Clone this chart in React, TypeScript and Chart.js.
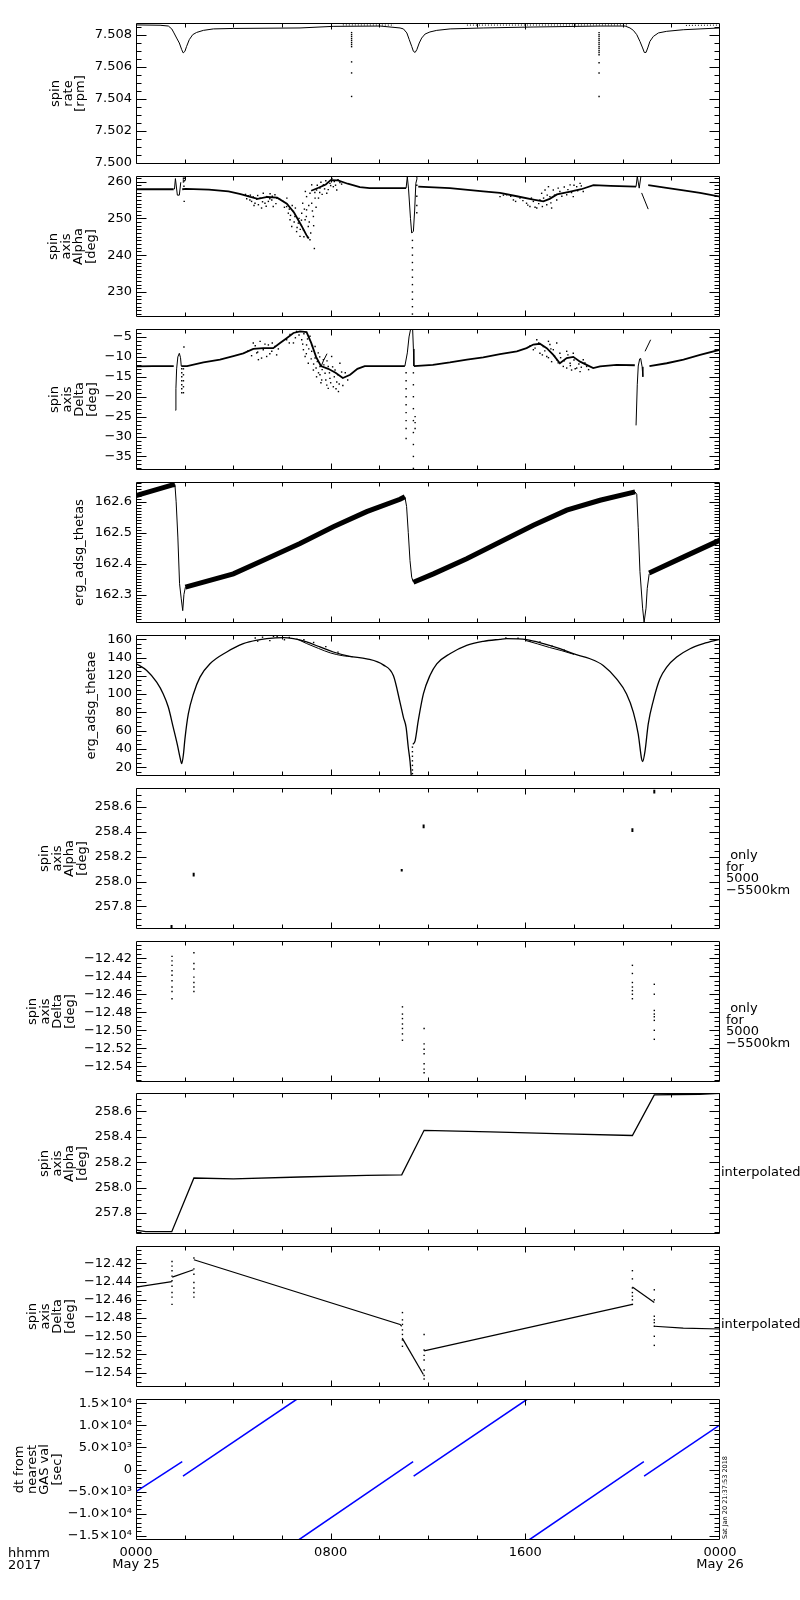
import React, { useEffect, useRef } from "react";
import { Chart, registerables } from "chart.js";
Chart.register(...registerables);

type Pt = [number, number]; // [hour of day, value]

const FONT = "'DejaVu Sans', 'Liberation Sans', sans-serif";

// ---------- x axis (hours, 2017 May 25 0000 -> May 26 0000) ----------
const xTickHours = [0, 8, 16, 24];
const xTickLabels: (string | string[])[] = [["0000", "May 25"], "0800", "1600", ["0000", "May 26"]];

// ---------- tick values & labels ----------
const spinRateTicks = [7.5, 7.502, 7.504, 7.506, 7.508];
const spinRateTickText = ["7.500", "7.502", "7.504", "7.506", "7.508"];
const alphaTicks = [230, 240, 250, 260];
const alphaTickText = ["230", "240", "250", "260"];
const deltaTicks = [-35, -30, -25, -20, -15, -10, -5];
const deltaTickText = ["−35", "−30", "−25", "−20", "−15", "−10", "−5"];
const thetasTicks = [162.3, 162.4, 162.5, 162.6];
const thetasTickText = ["162.3", "162.4", "162.5", "162.6"];
const thetaeTicks = [20, 40, 60, 80, 100, 120, 140, 160];
const thetaeTickText = ["20", "40", "60", "80", "100", "120", "140", "160"];
const alphaFineTicks = [257.8, 258.0, 258.2, 258.4, 258.6];
const alphaFineTickText = ["257.8", "258.0", "258.2", "258.4", "258.6"];
const deltaFineTicks = [-12.54, -12.52, -12.5, -12.48, -12.46, -12.44, -12.42];
const deltaFineTickText = ["−12.54", "−12.52", "−12.50", "−12.48", "−12.46", "−12.44", "−12.42"];
const dtTicks = [-15000, -10000, -5000, 0, 5000, 10000, 15000];
const dtTickText = ["−1.5×10⁴", "−1.0×10⁴", "−5.0×10³", "0", "5.0×10³", "1.0×10⁴", "1.5×10⁴"];

// ---------- Panel 1: spin rate [rpm] ----------
const spinRateMain: Pt[] = [
  [0, 7.50861], [0.99, 7.50859], [1.33, 7.50854], [1.47, 7.50836], [1.56, 7.50811], [1.67, 7.50779],
  [1.78, 7.50748], [1.88, 7.50706], [1.94, 7.50686], [2.01, 7.50696], [2.08, 7.50727], [2.19, 7.50769],
  [2.33, 7.508], [2.49, 7.50814], [2.77, 7.50827], [3.18, 7.50836], [4.0, 7.50839], [6.74, 7.50842],
  [8.1, 7.50852], [10.03, 7.50854], [10.85, 7.50842], [10.99, 7.50836], [11.13, 7.50811], [11.23, 7.50769],
  [11.33, 7.50727], [11.4, 7.50696], [11.47, 7.50689], [11.54, 7.50706], [11.64, 7.50748], [11.74, 7.50779],
  [11.88, 7.50804], [12.08, 7.50817], [12.36, 7.50827], [12.91, 7.50836], [14.27, 7.50842], [16.32, 7.50848],
  [19.07, 7.50854], [20.1, 7.50854], [20.3, 7.50842], [20.44, 7.50827], [20.58, 7.508], [20.71, 7.50758],
  [20.82, 7.50717], [20.89, 7.50689], [20.96, 7.50689], [21.03, 7.50717], [21.12, 7.50758], [21.26, 7.50789],
  [21.47, 7.50811], [21.81, 7.50821], [22.49, 7.50831], [23.18, 7.50836], [24, 7.50842],
];
const spinRateUpperA: Pt[] = [[8.5, 7.50861], [10.6, 7.5086]];
const spinRateUpperB: Pt[] = [[13.6, 7.5086], [20.2, 7.50861]];
const spinRateUpperC: Pt[] = [[22.6, 7.50858], [24, 7.5086]];
const spinRateSpikeA: Pt[] = [
  [8.86, 7.50813], [8.86, 7.508], [8.86, 7.50788], [8.86, 7.50775], [8.86, 7.50763], [8.86, 7.5075],
  [8.86, 7.50738], [8.86, 7.50725], [8.86, 7.5063], [8.86, 7.50561], [8.86, 7.50414],
];
const spinRateSpikeB: Pt[] = [
  [19.03, 7.50813], [19.03, 7.508], [19.03, 7.50788], [19.03, 7.50775], [19.03, 7.50763], [19.03, 7.5075],
  [19.03, 7.50738], [19.03, 7.50725], [19.03, 7.50713], [19.03, 7.507], [19.03, 7.50688], [19.03, 7.50675],
  [19.03, 7.50625], [19.03, 7.50561], [19.03, 7.50414],
];

// ---------- Panel 2: spin axis Alpha [deg] ----------
const alphaMain1: Pt[] = [[0, 257.9], [1.55, 257.9]];
const alphaGlitch1: Pt[] = [[1.58, 257.9], [1.62, 260.8], [1.7, 256.3], [1.78, 256.3], [1.84, 259.8]];
const alphaMain2: Pt[] = [
  [1.9, 257.9], [2.05, 258.0], [3.0, 257.8], [3.8, 257.3], [4.3, 256.6], [4.7, 255.8], [5.0, 255.3],
  [5.4, 255.8], [5.8, 255.6], [6.2, 254.0], [6.5, 251.5], [6.8, 248.0], [7.0, 245.5], [7.1, 244.5],
];
const alphaMain3: Pt[] = [
  [7.2, 257.5], [7.5, 258.3], [7.8, 259.2], [8.0, 260.4], [8.3, 260.3], [8.7, 259.4], [9.2, 258.5],
  [9.6, 258.2], [11.1, 258.2],
];
const alphaSpike2: Pt[] = [
  [11.1, 258.2], [11.15, 261.3], [11.2, 258.0], [11.28, 250.0], [11.33, 246.0], [11.4, 246.5],
  [11.45, 252], [11.5, 259.5], [11.55, 260.8],
];
const alphaMain4: Pt[] = [
  [11.6, 258.6], [12.9, 258.2], [14.27, 257.3], [14.96, 256.9], [15.65, 256.0], [16.33, 255.1],
  [16.74, 254.6], [17.0, 255.3], [17.3, 256.5], [17.8, 257.2], [18.3, 257.9], [18.8, 259.0],
  [19.5, 258.8], [20.55, 258.6],
];
const alphaGlitch3: Pt[] = [[20.55, 258.6], [20.6, 261.4], [20.68, 258.2], [20.75, 261.4]];
const alphaDiag3: Pt[] = [[20.78, 256.9], [21.05, 252.5]];
const alphaMain5: Pt[] = [[21.05, 259.0], [21.8, 258.3], [22.5, 257.6], [23.18, 256.9], [24, 255.9]];
const alphaDots: Pt[] = [
  [1.95, 260.9], [1.95, 260.4], [1.95, 259.9], [1.97, 258.7], [1.98, 254.6], [1.99, 260.9], [1.99, 260.2],
  [11.36, 244], [11.36, 242], [11.36, 240], [11.36, 238], [11.36, 236], [11.36, 234], [11.36, 232],
  [11.36, 230], [11.36, 228], [11.36, 226], [11.36, 224],
  [11.54, 261.0], [11.54, 259.0], [11.54, 256], [11.54, 253.5], [11.54, 251.5],
];
const alphaCloudLeft: Pt[] = [
  [4.62, 256.1], [4.75, 254.6], [4.89, 254.1], [5.03, 253.7], [5.1, 255.5], [5.16, 252.8], [5.23, 256.8],
  [5.3, 254.1], [5.37, 255.9], [5.44, 254.6], [5.51, 256.7], [5.58, 255.0], [5.64, 253.2], [5.71, 256.4],
  [5.78, 255.5], [4.96, 255.2], [4.82, 255.8], [4.68, 255.0], [6.05, 254.6], [6.19, 253.2], [6.26, 251.4],
  [6.33, 249.6], [6.4, 247.8], [6.47, 251.9], [6.53, 250.5], [6.6, 246.4], [6.67, 248.7], [6.74, 245.1],
  [6.81, 251.4], [6.88, 246.9], [6.95, 249.6], [7.01, 252.3], [7.08, 247.8], [7.15, 244.2], [7.22, 254.1],
  [7.29, 250.5], [7.33, 241.8], [6.85, 254.1], [7.01, 255.9], [7.15, 256.8], [6.96, 257.3], [7.42, 257.7],
  [7.56, 258.2], [7.7, 259.1], [7.84, 256.8], [7.97, 259.5], [8.11, 258.6], [8.25, 257.7], [8.38, 259.7],
  [7.22, 259.1], [7.36, 255.5],
  [6.1, 253.0], [6.2, 255.5], [6.3, 252.5], [6.35, 250.8], [6.42, 253.5], [6.5, 249.0], [6.55, 252.8],
  [6.62, 247.5], [6.7, 250.0], [6.75, 247.0], [6.8, 249.5], [6.9, 245.0], [6.92, 252.5], [7.0, 250.5],
  [7.05, 244.8], [7.1, 253.5], [7.12, 249.0], [7.18, 246.0], [7.25, 252.0], [7.3, 248.0], [7.35, 257.0],
  [7.4, 253.0], [7.45, 259.0], [7.5, 255.5], [7.55, 257.0], [7.6, 259.8], [7.65, 256.5], [7.75, 258.0],
  [7.8, 260.2], [7.9, 257.8], [8.0, 258.9], [8.05, 260.8], [8.15, 260.0], [8.2, 259.0], [8.3, 260.5],
  [8.45, 259.3], [4.5, 256.5], [4.55, 255.3], [4.7, 256.3], [4.85, 253.5], [5.0, 256.2], [5.2, 254.5],
  [5.35, 253.3], [5.5, 255.3], [5.6, 256.0], [5.75, 254.0], [5.9, 255.2],
];
const alphaCloudRight: Pt[] = [
  [14.96, 255.9], [15.23, 256.4], [15.51, 255.0], [15.78, 255.5], [16.05, 254.1], [16.19, 253.2],
  [16.33, 254.6], [16.47, 252.8], [16.6, 255.0], [16.67, 256.8], [16.88, 253.7], [17.01, 255.9],
  [17.08, 252.8], [17.15, 257.7], [17.29, 255.0], [17.42, 257.3], [17.7, 256.4], [17.84, 259.1],
  [17.97, 255.9], [18.11, 258.6], [18.25, 259.5], [18.38, 257.3], [16.81, 257.7], [16.95, 258.6],
  [15.1, 256.3], [15.4, 256.0], [15.6, 254.6], [15.9, 254.8], [16.1, 253.6], [16.25, 255.5], [16.4, 253.0],
  [16.55, 254.0], [16.7, 253.2], [16.75, 255.5], [16.9, 256.3], [17.05, 254.2], [17.2, 256.3], [17.35, 258.2],
  [17.5, 256.0], [17.6, 258.5], [17.75, 257.8], [17.9, 257.0], [18.0, 259.0], [18.15, 257.5], [18.3, 258.8],
];

// ---------- Panel 3: spin axis Delta [deg] ----------
const deltaMain1: Pt[] = [[0, -12.4], [0.7, -12.3], [1.55, -12.3]];
const deltaGlitch1: Pt[] = [[1.62, -23.4], [1.64, -18], [1.67, -13], [1.72, -10], [1.78, -9.1], [1.83, -10.2], [1.86, -12.3]];
const deltaMain2: Pt[] = [
  [1.86, -12.3], [2.1, -12.3], [2.77, -11.4], [3.45, -10.7], [4.0, -9.8], [4.41, -9.1], [4.82, -8.0],
  [5.23, -7.8], [5.64, -7.8], [5.92, -6.5], [6.19, -5.3], [6.47, -4.0], [6.74, -3.6], [7.01, -3.8],
  [7.2, -6.5], [7.4, -10], [7.6, -12.3], [7.9, -13.0], [8.2, -14.0], [8.5, -15.3], [8.8, -14.5],
  [9.1, -13.0], [9.4, -12.3], [11.05, -12.3],
];
const deltaBranch: Pt[] = [[7.6, -12.5], [7.7, -11], [7.85, -9.2]];
const deltaSpike2a: Pt[] = [[11.05, -12.3], [11.15, -9], [11.22, -5], [11.28, -3.2]];
const deltaSpike2b: Pt[] = [[11.37, -3.2], [11.4, -8], [11.42, -12.3]];
const deltaMain3: Pt[] = [
  [11.42, -12.3], [12.2, -12.0], [12.9, -11.4], [13.6, -10.7], [14.27, -10.1], [14.96, -9.3],
  [15.65, -8.6], [16.05, -7.8], [16.33, -6.9], [16.6, -6.7], [16.88, -7.8], [17.15, -9.5], [17.42, -11.6],
  [17.7, -10.3], [17.97, -10.0], [18.25, -11.2], [18.52, -12.0], [18.79, -12.8], [19.07, -12.4],
  [19.75, -12.0], [20.5, -12.1],
];
const deltaGlitch3a: Pt[] = [[20.55, -27.2], [20.6, -17], [20.64, -12.3], [20.7, -10.5], [20.74, -10.4], [20.8, -12.5], [20.83, -15]];
const deltaGlitch3b: Pt[] = [[20.92, -8.6], [21.15, -5.7]];
const deltaMain4: Pt[] = [[21.1, -12.3], [21.81, -11.6], [22.5, -10.7], [23.18, -9.5], [24, -8.2]];
const deltaDots: Pt[] = [
  [1.88, -13], [1.88, -14], [1.88, -15], [1.88, -16], [1.88, -17], [1.88, -18], [1.88, -19],
  [1.95, -13], [1.95, -14.5], [1.95, -16], [1.95, -17.5], [1.95, -19], [1.97, -7.5],
  [11.1, -14], [11.1, -16], [11.1, -18], [11.1, -20], [11.1, -22], [11.1, -24], [11.1, -26], [11.1, -28], [11.1, -30.5],
  [11.4, -14], [11.4, -17], [11.4, -20], [11.4, -23], [11.4, -26], [11.4, -29], [11.4, -32], [11.4, -35], [11.4, -38],
  [11.47, -25], [11.47, -26.5], [11.47, -28],
];
const deltaCloudLeft: Pt[] = [
  [4.82, -6.5], [4.96, -9.0], [5.03, -10.7], [5.1, -6.1], [5.23, -8.2], [5.37, -9.9], [5.44, -7.0],
  [5.58, -8.6], [5.71, -7.4], [5.78, -9.5], [5.16, -10.3], [4.75, -9.7], [6.19, -5.7], [6.33, -4.4],
  [6.47, -6.5], [6.6, -3.6], [6.81, -5.7], [6.88, -8.2], [6.95, -9.9], [7.01, -7.0], [7.08, -11.6],
  [7.15, -4.8], [7.22, -8.6], [7.29, -13.3], [7.36, -10.3], [7.42, -15.0], [7.49, -9.0], [7.56, -12.4],
  [7.63, -15.8], [7.7, -10.7], [7.77, -14.1], [7.84, -17.1], [7.9, -12.4], [7.97, -15.4], [8.04, -9.9],
  [8.11, -17.5], [8.18, -13.3], [8.25, -16.3], [8.32, -18.7], [8.38, -11.6], [7.9, -17.9], [7.56, -14.5],
  [7.36, -7.4],
  [4.6, -8.5], [4.9, -7.2], [5.0, -8.8], [5.3, -6.8], [5.5, -9.2], [5.6, -6.5], [5.85, -8.0], [6.3, -6.5],
  [6.55, -5.2], [6.7, -4.5], [6.85, -6.8], [6.9, -4.2], [7.0, -9.2], [7.05, -5.5], [7.1, -8.0], [7.2, -10.5],
  [7.25, -7.2], [7.3, -11.8], [7.4, -12.8], [7.45, -11.2], [7.5, -14.0], [7.55, -10.0], [7.6, -16.5],
  [7.65, -13.2], [7.72, -12.0], [7.8, -15.8], [7.85, -11.0], [7.95, -14.0], [8.0, -16.5], [8.08, -12.5],
  [8.15, -15.0], [8.22, -18.0], [8.3, -14.5], [8.35, -16.8], [8.45, -13.8], [8.5, -17.2], [8.6, -14.0], [8.7, -15.8],
];
const deltaCloudRight: Pt[] = [
  [16.33, -8.2], [16.47, -5.7], [16.6, -9.1], [16.74, -7.4], [16.88, -9.9], [17.01, -6.9], [17.08, -11.2],
  [17.15, -8.2], [17.29, -10.7], [17.42, -9.1], [17.56, -12.4], [17.7, -8.6], [17.84, -11.6], [17.9, -13.3],
  [17.97, -9.1], [18.11, -12.8], [18.25, -13.7], [18.38, -10.7], [18.52, -12.4], [17.29, -6.5],
  [16.95, -6.1], [17.7, -12.8],
  [16.2, -7.2], [16.4, -7.8], [16.55, -6.5], [16.7, -9.5], [16.8, -8.5], [16.95, -10.2], [17.05, -8.0],
  [17.2, -9.8], [17.35, -11.5], [17.45, -10.2], [17.6, -11.0], [17.75, -9.5], [17.85, -12.2], [18.0, -10.8],
  [18.05, -13.0], [18.2, -11.8], [18.3, -12.6], [18.45, -11.5], [18.6, -13.2],
];

// ---------- Panel 4: erg_adsg_thetas ----------
const thetasBand1: Pt[] = [[0, 162.62], [1.47, 162.654], [1.6, 162.656]];
const thetasDrop1: Pt[] = [[1.6, 162.656], [1.65, 162.6], [1.72, 162.486], [1.79, 162.335], [1.86, 162.286], [1.92, 162.248], [1.97, 162.3], [2.03, 162.324]];
const thetasBand2: Pt[] = [[2.03, 162.324], [4.0, 162.367], [5.37, 162.416], [6.74, 162.465], [8.11, 162.519], [9.48, 162.568], [10.85, 162.608], [11.05, 162.616]];
const thetasDrop2: Pt[] = [[11.05, 162.616], [11.12, 162.585], [11.19, 162.5], [11.26, 162.41], [11.33, 162.356], [11.4, 162.34]];
const thetasBand3: Pt[] = [[11.4, 162.34], [12.22, 162.367], [13.59, 162.416], [14.96, 162.47], [16.33, 162.524], [17.7, 162.573], [19.07, 162.605], [20.51, 162.632]];
const thetasDrop3: Pt[] = [[20.51, 162.632], [20.58, 162.624], [20.64, 162.516], [20.71, 162.375], [20.82, 162.256], [20.88, 162.21], [20.96, 162.256], [21.01, 162.32], [21.09, 162.367]];
const thetasBand4: Pt[] = [[21.09, 162.37], [22.49, 162.421], [24, 162.476]];

// ---------- Panel 5: erg_adsg_thetae ----------
const thetaeSeg1: Pt[] = [
  [0, 133.5], [0.44, 125.9], [0.85, 113.1], [1.12, 100.2], [1.33, 85.6], [1.53, 63.6], [1.71, 43.4],
  [1.81, 30.6], [1.88, 24.0], [1.95, 34.3], [2.01, 50.8], [2.15, 78.3], [2.36, 100.2], [2.63, 118.6],
  [3.04, 133.2], [3.73, 146.1], [4.41, 155.2], [5.1, 159.6], [5.37, 160.7], [6.05, 161.8], [6.47, 160.7],
  [7.01, 157.1], [7.56, 151.6], [8.11, 146.1], [8.79, 141.3], [9.48, 138.7], [10.16, 132], [10.58, 120],
  [10.85, 91], [10.99, 74.6], [11.1, 63.6], [11.19, 41.6], [11.26, 26.9], [11.31, 11],
];
const thetaeSeg2: Pt[] = [
  [11.38, 45], [11.47, 48.9], [11.6, 70.9], [11.81, 100.2], [12.08, 120.4], [12.36, 133.2], [12.9, 144.2],
  [13.59, 153.4], [14.27, 157.8], [14.96, 160], [15.23, 160.7], [16.05, 159.6], [16.74, 155.2],
  [17.42, 149.7], [17.97, 144.2], [18.66, 138.7], [19.2, 131.4], [19.75, 116.7], [20.16, 100.2],
  [20.44, 80.1], [20.64, 56.3], [20.78, 28.8], [20.82, 26.2], [20.92, 37.9], [21.05, 67.2], [21.26, 92.9],
  [21.53, 116.7], [21.81, 129.6], [22.22, 140.6], [22.77, 149.7], [23.32, 155.2], [24, 160],
];
const thetaeLowerA: Pt[] = [[6.6, 160.5], [7.0, 155.5], [7.5, 150], [8.0, 145], [8.5, 142], [8.9, 140.8]];
const thetaeLowerB: Pt[] = [[16.0, 158.8], [16.5, 155], [17.0, 151], [17.5, 147.5], [18.0, 143.5]];
const thetaeDots: Pt[] = [
  [4.9, 161.5], [5.2, 162.3], [5.5, 158.5], [5.8, 162.8], [6.1, 159.5], [6.3, 162.0], [5.0, 158.0],
  [5.65, 163.2], [6.9, 159.5], [7.3, 156.5], [7.8, 152.0], [8.3, 146.0], [15.2, 161.5], [15.7, 161.2],
  [16.2, 158.0], [16.6, 157.0], [17.1, 152.5], [17.6, 148.0],
  [11.36, 42], [11.36, 37], [11.36, 32], [11.36, 27], [11.36, 22], [11.36, 17], [11.36, 13],
];

// ---------- Panel 6: spin axis Alpha, only for 5000-5500 km ----------
const alphaOnlyMarks: Pt[][] = [
  [[1.46, 257.65], [1.46, 257.62]],
  [[2.37, 258.07], [2.37, 258.04]],
  [[10.92, 258.1], [10.92, 258.08]],
  [[11.82, 258.46], [11.82, 258.43]],
  [[20.4, 258.43], [20.4, 258.4]],
  [[21.3, 258.74], [21.3, 258.71]],
];

// ---------- Panel 7: spin axis Delta, only for 5000-5500 km ----------
const deltaOnlyDots: Pt[] = [
  [1.48, -12.418], [1.48, -12.423], [1.48, -12.428], [1.48, -12.434], [1.48, -12.439], [1.48, -12.445],
  [1.48, -12.452], [1.48, -12.457], [1.48, -12.465],
  [2.38, -12.414], [2.38, -12.426], [2.38, -12.432], [2.38, -12.441], [2.38, -12.447], [2.38, -12.452], [2.38, -12.457],
  [10.95, -12.474], [10.95, -12.482], [10.95, -12.487], [10.95, -12.493], [10.95, -12.498], [10.95, -12.504], [10.95, -12.511],
  [11.84, -12.498], [11.84, -12.515], [11.84, -12.521], [11.84, -12.526], [11.84, -12.537], [11.84, -12.543], [11.84, -12.547],
  [20.4, -12.428], [20.4, -12.437], [20.4, -12.447], [20.4, -12.452], [20.4, -12.456], [20.4, -12.46], [20.4, -12.465],
  [21.3, -12.449], [21.3, -12.46], [21.3, -12.478], [21.3, -12.482], [21.3, -12.485], [21.3, -12.489], [21.3, -12.5], [21.3, -12.51],
];

// ---------- Panel 8: spin axis Alpha, interpolated ----------
const alphaInterp: Pt[] = [
  [0, 257.665], [0.4, 257.652], [1.47, 257.652], [2.38, 258.075], [4.0, 258.069], [6.74, 258.083],
  [9.48, 258.096], [10.92, 258.1], [11.84, 258.451], [14.56, 258.438], [17.23, 258.425], [20.4, 258.41],
  [21.3, 258.73], [23.15, 258.735], [24, 258.742],
];

// ---------- Panel 9: spin axis Delta, interpolated ----------
const deltaInterpSegs: Pt[][] = [
  [[0, -12.446], [1.47, -12.44]],
  [[1.49, -12.435], [2.36, -12.427]],
  [[2.38, -12.416], [10.85, -12.487], [10.92, -12.489]],
  [[10.94, -12.502], [11.81, -12.542]],
  [[11.84, -12.516], [20.4, -12.465]],
  [[20.4, -12.446], [21.3, -12.463]],
  [[21.3, -12.489], [22.49, -12.491], [24, -12.492]],
];

// ---------- Panel 10: dt from nearest GAS val [sec] ----------
const dtSegs: Pt[][] = [
  [[0, -5000], [1.9, 1800]],
  [[1.93, -1500], [6.65, 16060]],
  [[6.65, -16060], [11.39, 1800]],
  [[11.41, -1500], [16.12, 16060]],
  [[16.12, -16060], [20.87, 1800]],
  [[20.88, -1500], [24, 10100]],
];

// ---------- chart plumbing ----------
type LineSpec = { segs: Pt[][]; width: number; color?: string; dash?: number[]; smooth?: boolean };
interface PanelSpec {
  top: number;
  height: number;
  yMin: number; yMax: number; yStep: number; yMinor: number;
  ticks: number[];
  tickText: string[];
  title: string[];
  titleCenter: number;
  lines: LineSpec[];
  dots?: Pt[][];
  xLabels?: boolean;
}

const panels: PanelSpec[] = [
  {
    top: 23, height: 141, yMin: 7.49992, yMax: 7.50873, yStep: 0.002, yMinor: 0.0005,
    ticks: spinRateTicks, tickText: spinRateTickText, title: ["spin", "rate", "[rpm]"], titleCenter: 56,
    lines: [
      { segs: [spinRateMain], width: 1 },
      { segs: [spinRateUpperA, spinRateUpperB, spinRateUpperC], width: 1, dash: [1, 2] },
    ],
    dots: [spinRateSpikeA, spinRateSpikeB],
  },
  {
    top: 176, height: 141, yMin: 223.2, yMax: 261.5, yStep: 10, yMinor: 1,
    ticks: alphaTicks, tickText: alphaTickText, title: ["spin", "axis", "Alpha", "[deg]"], titleCenter: 54,
    lines: [
      { segs: [alphaMain1, alphaMain2, alphaMain3, alphaMain4, alphaMain5], width: 1.8 },
      { segs: [alphaGlitch1, alphaSpike2, alphaGlitch3, alphaDiag3], width: 1 },
    ],
    dots: [alphaDots, alphaCloudLeft, alphaCloudRight],
  },
  {
    top: 329, height: 141, yMin: -38.4, yMax: -3.0, yStep: 5, yMinor: 1,
    ticks: deltaTicks, tickText: deltaTickText, title: ["spin", "axis", "Delta", "[deg]"], titleCenter: 55,
    lines: [
      { segs: [deltaMain1, deltaMain2, deltaMain3, deltaMain4], width: 1.8 },
      { segs: [deltaGlitch1, deltaBranch, deltaSpike2a, deltaSpike2b, deltaGlitch3a, deltaGlitch3b], width: 1 },
    ],
    dots: [deltaDots, deltaCloudLeft, deltaCloudRight],
  },
  {
    top: 482, height: 141, yMin: 162.208, yMax: 162.664, yStep: 0.1, yMinor: 0.01,
    ticks: thetasTicks, tickText: thetasTickText, title: ["erg_adsg_thetas"], titleCenter: 80,
    lines: [
      { segs: [thetasBand1, thetasBand2, thetasBand3, thetasBand4], width: 5 },
      { segs: [thetasDrop1, thetasDrop2, thetasDrop3], width: 1 },
    ],
  },
  {
    top: 635, height: 141, yMin: 10.4, yMax: 164.7, yStep: 20, yMinor: 5,
    ticks: thetaeTicks, tickText: thetaeTickText, title: ["erg_adsg_thetae"], titleCenter: 92,
    lines: [
      { segs: [thetaeSeg1, thetaeSeg2], width: 1.3, smooth: true },
      { segs: [thetaeLowerA, thetaeLowerB], width: 1, smooth: true },
    ],
    dots: [thetaeDots],
  },
  {
    top: 788, height: 141, yMin: 257.617, yMax: 258.754, yStep: 0.2, yMinor: 0.05,
    ticks: alphaFineTicks, tickText: alphaFineTickText, title: ["spin", "axis", "Alpha", "[deg]"], titleCenter: 45,
    lines: [{ segs: alphaOnlyMarks, width: 2 }],
  },
  {
    top: 941, height: 141, yMin: -12.5573, yMax: -12.401, yStep: 0.02, yMinor: 0.005,
    ticks: deltaFineTicks, tickText: deltaFineTickText, title: ["spin", "axis", "Delta", "[deg]"], titleCenter: 33,
    lines: [],
    dots: [deltaOnlyDots],
  },
  {
    top: 1093, height: 141, yMin: 257.634, yMax: 258.745, yStep: 0.2, yMinor: 0.05,
    ticks: alphaFineTicks, tickText: alphaFineTickText, title: ["spin", "axis", "Alpha", "[deg]"], titleCenter: 45,
    lines: [{ segs: [alphaInterp], width: 1.3 }],
  },
  {
    top: 1246, height: 141, yMin: -12.5557, yMax: -12.4009, yStep: 0.02, yMinor: 0.005,
    ticks: deltaFineTicks, tickText: deltaFineTickText, title: ["spin", "axis", "Delta", "[deg]"], titleCenter: 33,
    lines: [{ segs: deltaInterpSegs, width: 1.2 }],
    dots: [deltaOnlyDots],
  },
  {
    top: 1399, height: 141, yMin: -15950, yMax: 15950, yStep: 5000, yMinor: 1000,
    ticks: dtTicks, tickText: dtTickText, title: ["dt from", "nearest", "GAS val", "[sec]"], titleCenter: 20,
    lines: [{ segs: dtSegs, width: 1.5, color: "#0000ff" }],
    xLabels: true,
  },
];

const idlAxes = {
  id: "idlAxes",
  afterDatasetsDraw(chart: any, _args: any, opts: any) {
    const { ctx, chartArea: a } = chart;
    const xs = chart.scales.x;
    const ys = chart.scales.y;
    ctx.save();
    ctx.strokeStyle = "#000";
    ctx.lineWidth = 1;
    const L = Math.round(a.left) + 0.5;
    const R = Math.round(a.right) - 0.5;
    const T = Math.round(a.top) + 0.5;
    const B = Math.round(a.bottom) - 0.5;
    ctx.beginPath();
    ctx.rect(L, T, R - L, B - T);
    const yStep = opts.yStep, yMinor = opts.yMinor;
    const k0 = Math.ceil(ys.min / yMinor - 1e-6);
    const k1 = Math.floor(ys.max / yMinor + 1e-6);
    for (let k = k0; k <= k1; k++) {
      const v = k * yMinor;
      const r = v / yStep;
      const major = Math.abs(r - Math.round(r)) < 1e-6;
      const len = major ? 10 : 5;
      const py = Math.round(ys.getPixelForValue(v)) + 0.5;
      ctx.moveTo(L, py); ctx.lineTo(L + len, py);
      ctx.moveTo(R, py); ctx.lineTo(R - len, py);
    }
    for (let hr = 2; hr < 24; hr += 2) {
      const len = hr % 8 === 0 ? 6 : 4;
      const px = Math.round(xs.getPixelForValue(hr)) + 0.5;
      ctx.moveTo(px, B); ctx.lineTo(px, B - len);
      ctx.moveTo(px, T); ctx.lineTo(px, T + len);
    }
    ctx.stroke();
    ctx.restore();
  },
};

const PAD_TOP = 12;
const X_AXIS_H = 40;

function buildConfig(p: PanelSpec, padBottom: number): any {
  const datasets: any[] = [];
  p.lines.forEach((l) => {
    l.segs.forEach((seg) => {
      datasets.push({
        data: seg.map(([x, y]) => ({ x, y })),
        showLine: true,
        borderColor: l.color ?? "#000",
        borderWidth: l.width,
        borderDash: l.dash ?? [],
        pointRadius: 0,
        fill: false,
        tension: 0,
        cubicInterpolationMode: l.smooth ? "monotone" : "default",
      });
    });
  });
  (p.dots ?? []).forEach((d) => {
    datasets.push({
      data: d.map(([x, y]) => ({ x, y })),
      showLine: false,
      pointRadius: 1,
      pointStyle: "rect",
      backgroundColor: "#000",
      borderWidth: 0,
    });
  });
  const font = { family: FONT, size: 13 };
  return {
    type: "scatter",
    data: { datasets },
    options: {
      animation: false,
      responsive: false,
      events: [],
      layout: { padding: { top: PAD_TOP, bottom: padBottom, left: 0, right: 80 } },
      plugins: {
        legend: { display: false },
        tooltip: { enabled: false },
        idlAxes: { yStep: p.yStep, yMinor: p.yMinor },
      },
      scales: {
        x: {
          type: "linear",
          min: 0,
          max: 24,
          display: !!p.xLabels,
          position: "bottom",
          grid: { display: false, drawTicks: false },
          border: { display: false },
          afterBuildTicks: (s: any) => { s.ticks = xTickHours.map((v) => ({ value: v })); },
          ticks: {
            autoSkip: false,
            maxRotation: 0,
            padding: 7,
            color: "#000",
            font: { family: FONT, size: 13, lineHeight: 0.92 },
            callback: (_v: number, i: number) => xTickLabels[i] ?? "",
          },
          afterFit: (s: any) => { if (p.xLabels) s.height = X_AXIS_H; },
        },
        y: {
          type: "linear",
          position: "left",
          min: p.yMin,
          max: p.yMax,
          grid: { display: false, drawTicks: false },
          border: { display: false },
          afterBuildTicks: (s: any) => { s.ticks = p.ticks.map((v) => ({ value: v })); },
          ticks: {
            autoSkip: false,
            padding: 4,
            color: "#000",
            font,
            callback: (_v: number, i: number) => p.tickText[i] ?? "",
          },
          title: {
            display: true,
            text: p.title,
            color: "#000",
            font: { family: FONT, size: 13, lineHeight: 0.96 },
            padding: { top: p.titleCenter - 6.25, bottom: 0 },
          },
          afterFit: (s: any) => { s.width = 136; },
        },
      },
    },
    plugins: [idlAxes],
  };
}

function Panel({ spec }: { spec: PanelSpec }) {
  const ref = useRef<HTMLCanvasElement>(null);
  const padBottom = spec.xLabels ? 4 : 12;
  const h = PAD_TOP + spec.height + (spec.xLabels ? X_AXIS_H : 0) + padBottom;
  useEffect(() => {
    const chart = new Chart(ref.current as HTMLCanvasElement, buildConfig(spec, padBottom));
    return () => chart.destroy();
  }, [spec]);
  return (
    <canvas
      ref={ref}
      width={800}
      height={h}
      style={{ position: "absolute", left: 0, top: spec.top - PAD_TOP, width: 800, height: h }}
    />
  );
}

const txt: React.CSSProperties = {
  position: "absolute",
  fontFamily: FONT,
  fontSize: 13,
  color: "#000",
  whiteSpace: "pre",
};

export default function App() {
  return (
    <div style={{ position: "absolute", left: 0, top: 0, width: 800, height: 1600, background: "#fff" }}>
      {panels.map((p, i) => (
        <Panel key={i} spec={p} />
      ))}
      <div style={{ ...txt, left: 726, top: 849, lineHeight: "11.7px" }}>{" only\nfor\n5000\n−5500km"}</div>
      <div style={{ ...txt, left: 726, top: 1002, lineHeight: "11.7px" }}>{" only\nfor\n5000\n−5500km"}</div>
      <div style={{ ...txt, left: 721, top: 1165, lineHeight: "13px" }}>interpolated</div>
      <div style={{ ...txt, left: 721, top: 1317, lineHeight: "13px" }}>interpolated</div>
      <div style={{ ...txt, left: 8, top: 1547, lineHeight: "11.7px" }}>{"hhmm\n2017"}</div>
      <div
        style={{
          ...txt,
          fontSize: 6.5,
          lineHeight: "8px",
          left: 721,
          top: 1539,
          transformOrigin: "0 0",
          transform: "rotate(-90deg)",
        }}
      >
        Sat Jan 20 21:37:53 2018
      </div>
    </div>
  );
}
